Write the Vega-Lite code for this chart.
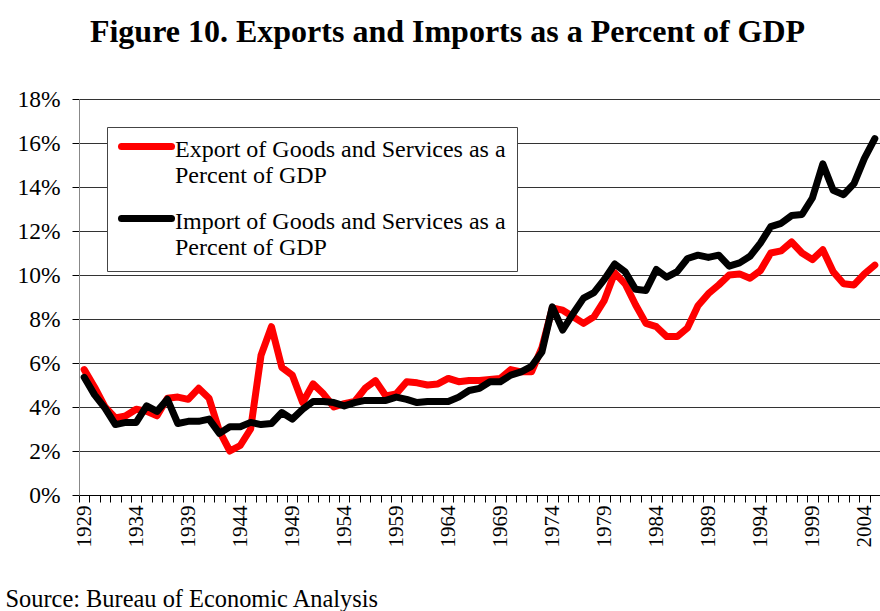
{
  "$schema": "https://vega.github.io/schema/vega-lite/v6.json",
  "width": 801,
  "height": 396,
  "autosize": {"type": "none"},
  "padding": {"left": 79, "top": 99, "right": 0, "bottom": 116},
  "background": "white",
  "title": {
    "text": "Figure 10. Exports and Imports as a Percent of GDP",
    "font": "Liberation Serif",
    "fontSize": 32,
    "fontWeight": "bold",
    "color": "black",
    "anchor": "middle",
    "baseline": "alphabetic",
    "offset": 13,
    "dx": -32
  },
  "config": {
    "view": {"stroke": null},
    "axis": {"labelFont": "Liberation Serif", "titleFont": "Liberation Serif", "labelColor": "black"}
  },
  "data": {
    "values": [
      {"year": 1929, "exports": 5.7, "imports": 5.35},
      {"year": 1930, "exports": 4.9, "imports": 4.55},
      {"year": 1931, "exports": 4.0, "imports": 3.95},
      {"year": 1932, "exports": 3.5, "imports": 3.2},
      {"year": 1933, "exports": 3.6, "imports": 3.3},
      {"year": 1934, "exports": 3.9, "imports": 3.3},
      {"year": 1935, "exports": 3.8, "imports": 4.05},
      {"year": 1936, "exports": 3.6, "imports": 3.8},
      {"year": 1937, "exports": 4.4, "imports": 4.35},
      {"year": 1938, "exports": 4.45, "imports": 3.25},
      {"year": 1939, "exports": 4.35, "imports": 3.35},
      {"year": 1940, "exports": 4.85, "imports": 3.35},
      {"year": 1941, "exports": 4.4, "imports": 3.45},
      {"year": 1942, "exports": 2.9, "imports": 2.8},
      {"year": 1943, "exports": 2.0, "imports": 3.1},
      {"year": 1944, "exports": 2.25, "imports": 3.1},
      {"year": 1945, "exports": 3.0, "imports": 3.3},
      {"year": 1946, "exports": 6.35, "imports": 3.2},
      {"year": 1947, "exports": 7.65, "imports": 3.25},
      {"year": 1948, "exports": 5.8, "imports": 3.75},
      {"year": 1949, "exports": 5.45, "imports": 3.45},
      {"year": 1950, "exports": 4.2, "imports": 3.9},
      {"year": 1951, "exports": 5.05, "imports": 4.25},
      {"year": 1952, "exports": 4.6, "imports": 4.25},
      {"year": 1953, "exports": 4.0, "imports": 4.2},
      {"year": 1954, "exports": 4.15, "imports": 4.05},
      {"year": 1955, "exports": 4.25, "imports": 4.2},
      {"year": 1956, "exports": 4.85, "imports": 4.3},
      {"year": 1957, "exports": 5.2, "imports": 4.3},
      {"year": 1958, "exports": 4.5, "imports": 4.3},
      {"year": 1959, "exports": 4.6, "imports": 4.45},
      {"year": 1960, "exports": 5.15, "imports": 4.35},
      {"year": 1961, "exports": 5.1, "imports": 4.2},
      {"year": 1962, "exports": 5.0, "imports": 4.25},
      {"year": 1963, "exports": 5.05, "imports": 4.25},
      {"year": 1964, "exports": 5.3, "imports": 4.25},
      {"year": 1965, "exports": 5.15, "imports": 4.45},
      {"year": 1966, "exports": 5.2, "imports": 4.75},
      {"year": 1967, "exports": 5.2, "imports": 4.85},
      {"year": 1968, "exports": 5.25, "imports": 5.15},
      {"year": 1969, "exports": 5.3, "imports": 5.15},
      {"year": 1970, "exports": 5.7, "imports": 5.45},
      {"year": 1971, "exports": 5.6, "imports": 5.6},
      {"year": 1972, "exports": 5.6, "imports": 5.85},
      {"year": 1973, "exports": 6.7, "imports": 6.5},
      {"year": 1974, "exports": 8.5, "imports": 8.55},
      {"year": 1975, "exports": 8.4, "imports": 7.5},
      {"year": 1976, "exports": 8.1, "imports": 8.25},
      {"year": 1977, "exports": 7.8, "imports": 8.95},
      {"year": 1978, "exports": 8.1, "imports": 9.2},
      {"year": 1979, "exports": 8.85, "imports": 9.8},
      {"year": 1980, "exports": 10.1, "imports": 10.5},
      {"year": 1981, "exports": 9.6, "imports": 10.15},
      {"year": 1982, "exports": 8.65, "imports": 9.35},
      {"year": 1983, "exports": 7.8, "imports": 9.3},
      {"year": 1984, "exports": 7.65, "imports": 10.25},
      {"year": 1985, "exports": 7.2, "imports": 9.9},
      {"year": 1986, "exports": 7.2, "imports": 10.15},
      {"year": 1987, "exports": 7.6, "imports": 10.75},
      {"year": 1988, "exports": 8.6, "imports": 10.9},
      {"year": 1989, "exports": 9.15, "imports": 10.8},
      {"year": 1990, "exports": 9.55, "imports": 10.9},
      {"year": 1991, "exports": 10.0, "imports": 10.4},
      {"year": 1992, "exports": 10.05, "imports": 10.55},
      {"year": 1993, "exports": 9.85, "imports": 10.85},
      {"year": 1994, "exports": 10.2, "imports": 11.45},
      {"year": 1995, "exports": 11.0, "imports": 12.2},
      {"year": 1996, "exports": 11.1, "imports": 12.35},
      {"year": 1997, "exports": 11.5, "imports": 12.7},
      {"year": 1998, "exports": 11.0, "imports": 12.75},
      {"year": 1999, "exports": 10.7, "imports": 13.5},
      {"year": 2000, "exports": 11.15, "imports": 15.05},
      {"year": 2001, "exports": 10.15, "imports": 13.85},
      {"year": 2002, "exports": 9.6, "imports": 13.65},
      {"year": 2003, "exports": 9.55, "imports": 14.15},
      {"year": 2004, "exports": 10.05, "imports": 15.3},
      {"year": 2005, "exports": 10.45, "imports": 16.2}
    ]
  },
  "transform": [{"fold": ["exports", "imports"], "as": ["series", "value"]}],
  "mark": {"type": "line", "strokeWidth": 7, "strokeJoin": "round", "strokeCap": "round"},
  "encoding": {
    "x": {
      "field": "year",
      "type": "ordinal",
      "bandPosition": 0.5,
      "scale": {"type": "band", "paddingInner": 0, "paddingOuter": 0},
      "axis": {
        "title": "Source: Bureau of Economic Analysis",
        "titleFontSize": 24.4,
        "titleFontWeight": "normal",
        "titleColor": "black",
        "titleAnchor": "start",
        "titleAlign": "left",
        "titleBaseline": "alphabetic",
        "titleX": -74,
        "titleY": 111,
        "labelAngle": 270,
        "labelAlign": "right",
        "labelBaseline": "middle",
        "labelFontSize": 21,
        "labelPadding": 3,
        "labelOverlap": false,
        "labelExpr": "(datum.value - 1929) % 5 == 0 ? datum.label : ''",
        "tickBand": "extent",
        "tickSize": 7,
        "tickColor": "black",
        "domainColor": "black",
        "grid": false
      }
    },
    "y": {
      "field": "value",
      "type": "quantitative",
      "scale": {"domain": [0, 18], "nice": false},
      "axis": {
        "title": null,
        "values": [0, 2, 4, 6, 8, 10, 12, 14, 16, 18],
        "labelExpr": "datum.value + '%'",
        "labelFontSize": 23.5,
        "labelPadding": 12,
        "tickSize": 7,
        "tickColor": "black",
        "domainColor": "#888",
        "grid": true,
        "gridColor": "#333",
        "gridWidth": 1
      }
    },
    "color": {
      "field": "series",
      "type": "nominal",
      "scale": {"domain": ["exports", "imports"], "range": ["#ff0000", "#000000"]},
      "legend": {
        "title": null,
        "orient": "none",
        "legendX": 28,
        "legendY": 28,
        "fillColor": "white",
        "strokeColor": "#444",
        "padding": 11,
        "symbolType": "M-2.5,-0.5H2.5",
        "symbolStrokeWidth": 7,
        "symbolSize": 400,
        "symbolOffset": 15,
        "labelFont": "Liberation Serif",
        "labelFontSize": 24,
        "labelLineHeight": 26,
        "labelColor": "black",
        "labelLimit": 600,
        "labelOffset": 15,
        "labelBaseline": "alphabetic",
        "rowPadding": 16,
        "labelExpr": "datum.value == 'exports' ? ['Export of Goods and Services as a', 'Percent of GDP'] : ['Import of Goods and Services as a', 'Percent of GDP']",
        "encode": {
          "labels": {"update": {"dy": {"value": 5}}},
          "symbols": {"update": {"strokeCap": {"value": "round"}}}
        }
      }
    }
  }
}
